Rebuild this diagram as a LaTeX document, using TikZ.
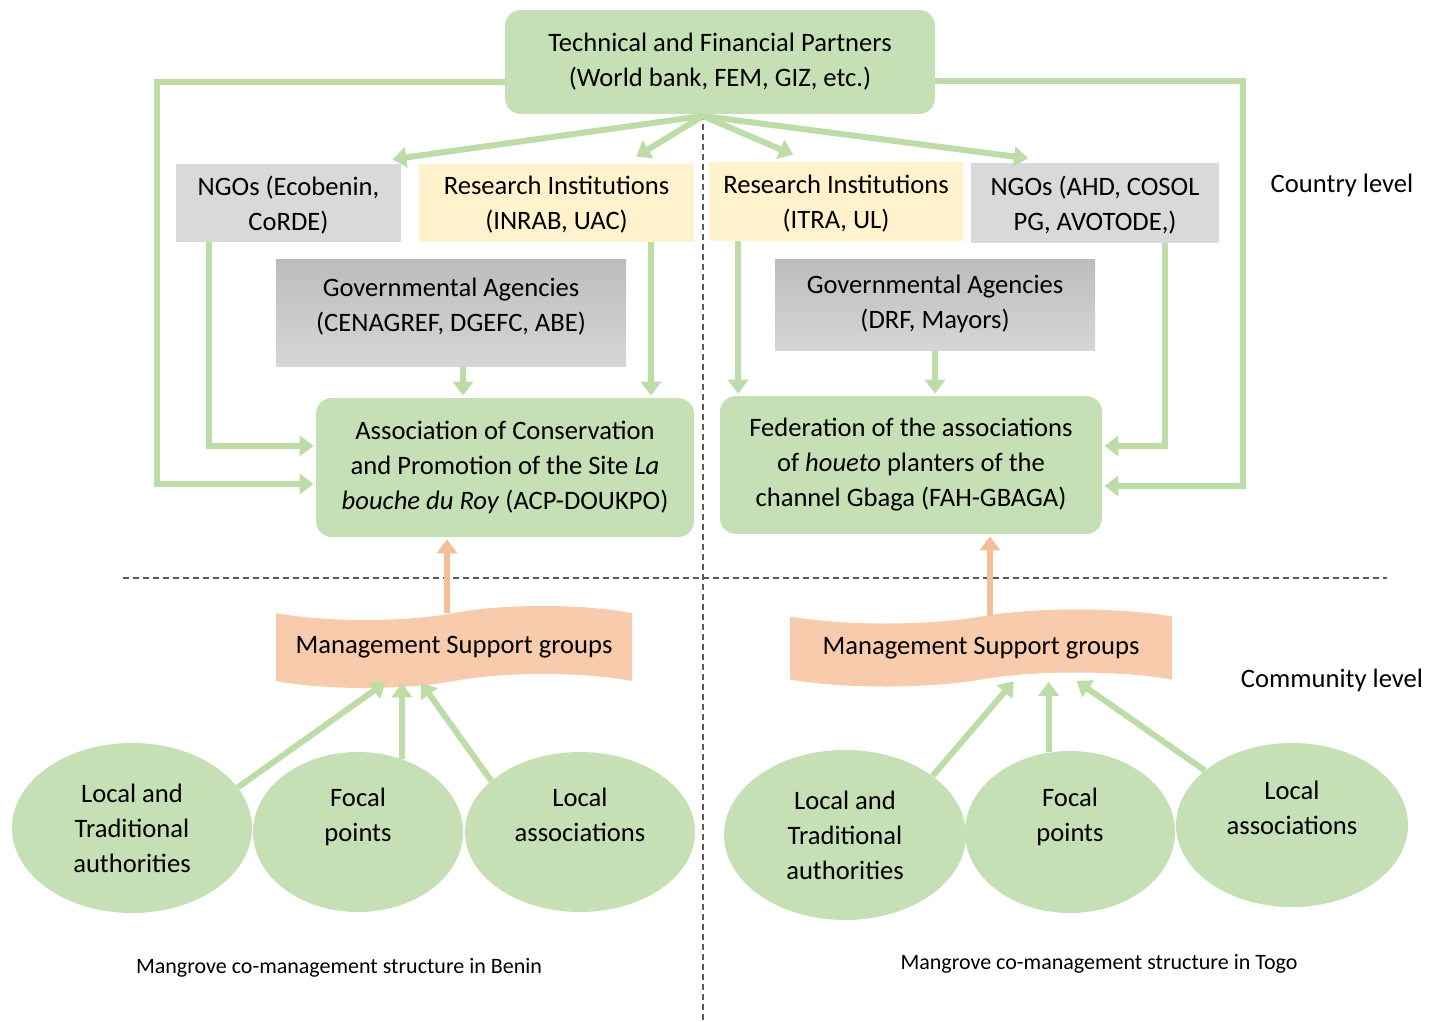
\documentclass[tikz,border=0pt]{standalone}
\usepackage{fontspec}
\setmainfont{Carlito}
\usetikzlibrary{shapes.geometric,shapes.symbols,arrows.meta}
\definecolor{leaf}{RGB}{197,224,180}
\definecolor{leafline}{RGB}{189,220,168}
\definecolor{ngogray}{RGB}{217,217,217}
\definecolor{cream}{RGB}{255,242,204}
\definecolor{peach}{RGB}{248,203,173}
\definecolor{peachline}{RGB}{245,190,152}
\definecolor{govtop}{RGB}{188,188,188}
\definecolor{govbot}{RGB}{214,214,214}
\definecolor{rule}{RGB}{90,90,90}

\begin{document}
\begin{tikzpicture}[x=0.5pt,y=-0.5pt]
    \tikzstyle{every node}=[font=\fontsize{13.3}{17.5}\selectfont, align=center, inner sep=0pt]
    \tikzstyle{roundbox}=[rectangle, rounded corners=8pt, fill=leaf]
    \tikzstyle{ngobox}=[rectangle, fill=ngogray, text depth=0pt]
    \tikzstyle{resbox}=[rectangle, fill=cream, text depth=0pt]
    \tikzstyle{govbox}=[rectangle, top color=govtop, bottom color=govbot, text depth=8pt]
    \tikzstyle{wave}=[tape, fill=peach, tape bend height=7pt]
    \tikzstyle{blob}=[ellipse, fill=leaf]
    \tikzstyle{blob2}=[blob, text depth=17pt]
    \tikzstyle{link}=[-{Triangle[width=10pt,length=7pt]}, draw=leafline, line width=3pt, shorten >=1pt]
    \tikzstyle{uplink}=[-{Triangle[width=10pt,length=7pt]}, draw=peachline, line width=3pt, shorten >=1pt]
    \tikzstyle{divider}=[draw=rule, densely dashed, line width=0.6pt]
    \tikzstyle{caption}=[font=\fontsize{11}{13}\selectfont]

    \fill[white] (0,0) rectangle (1441,1022);
    \useasboundingbox (0,0) rectangle (1441,1022);

    % dividers
    \draw[divider] (123,578) -- (1387,578);
    \draw[divider] (703,114) -- (703,1020);

    % country level
    \node[roundbox, minimum width=215pt, minimum height=52pt] (tfp) at (720,62)
        {Technical and Financial Partners\\(World bank, FEM, GIZ, etc.)};
    \node[ngobox, minimum width=112.5pt, minimum height=39pt] (ngoB) at (288.5,203)
        {NGOs (Ecobenin,\\CoRDE)};
    \node[resbox, minimum width=137.5pt, minimum height=39pt] (resB) at (556.5,203)
        {Research Institutions\\(INRAB, UAC)};
    \node[resbox, minimum width=127pt, minimum height=39.5pt] (resT) at (836,201.5)
        {Research Institutions\\(ITRA, UL)};
    \node[ngobox, minimum width=124pt, minimum height=40pt] (ngoT) at (1095,203)
        {NGOs (AHD, COSOL\\PG, AVOTODE,)};
    \node[govbox, minimum width=175pt, minimum height=53.5pt] (govB) at (451,312.5)
        {Governmental Agencies\\(CENAGREF, DGEFC, ABE)};
    \node[govbox, text depth=3pt, minimum width=160pt, minimum height=45.5pt] (govT) at (935,304.5)
        {Governmental Agencies\\(DRF, Mayors)};
    \node[roundbox, minimum width=189pt, minimum height=69.5pt] (acp) at (505,467.5)
        {Association of Conservation\\and Promotion of the Site \textit{La}\\\textit{bouche du Roy} (ACP-DOUKPO)};
    \node[roundbox, minimum width=191pt, minimum height=69pt] (fah) at (911,465)
        {Federation of the associations\\of \textit{houeto} planters of the\\channel Gbaga (FAH-GBAGA)};
    \node (country) at (1342,185) {Country level};

    % community level
    \node[wave, minimum width=178pt, minimum height=41pt] (msgB) at (454,647) {Management Support groups};
    \node[wave, minimum width=191pt, minimum height=38.5pt] (msgT) at (981,648) {Management Support groups};
    \node (community) at (1332,680) {Community level};

    \node[blob, minimum width=120pt, minimum height=85pt] (ltB) at (132,828) {Local and\\Traditional\\authorities};
    \node[blob2, minimum width=105pt, minimum height=80pt] (fpB) at (358,832) {Focal\\points};
    \node[blob2, minimum width=115pt, minimum height=80pt] (laB) at (580,832) {Local\\associations};
    \node[blob, minimum width=121pt, minimum height=85pt] (ltT) at (845,835) {Local and\\Traditional\\authorities};
    \node[blob2, minimum width=105pt, minimum height=81pt] (fpT) at (1070,832) {Focal\\points};
    \node[blob2, minimum width=116pt, minimum height=82pt] (laT) at (1292,825) {Local\\associations};

    \node[caption] (capB) at (339,968) {Mangrove co-management structure in Benin};
    \node[caption] (capT) at (1099,964) {Mangrove co-management structure in Togo};

    % partners to the country actors
    \coordinate (hub) at (703,116);
    \coordinate (lcorner) at (157,82);
    \coordinate (rcorner) at (1243,81);
    \draw[link] (hub) -- ([xshift=-5.5pt,yshift=2pt]ngoB.north east);
    \draw[link] (hub) -- ([xshift=39pt,yshift=3pt]resB.north);
    \draw[link] (hub) -- ([xshift=-20.5pt,yshift=3pt]resT.north);
    \draw[link] (hub) -- ([xshift=-32.5pt,yshift=2pt]ngoT.north);
    \draw[link] ([yshift=-10pt]tfp.west) -- (lcorner) |- ([yshift=-8.25pt]acp.west);
    \draw[link] ([yshift=-9.5pt]tfp.east) -- (rcorner) |- ([yshift=-10.5pt]fah.east);

    % country actors to the associations
    \draw[link] ([xshift=16.5pt]ngoB.south west) |- ([yshift=10.75pt]acp.west);
    \draw[link] ([xshift=47.25pt]resB.south) -- ([xshift=47.25pt]resB.south |- acp.north);
    \draw[link] ([xshift=6pt]govB.south) -- ([xshift=6pt]govB.south |- acp.north);
    \draw[link] ([xshift=-49pt]resT.south) -- ([xshift=-49pt]resT.south |- fah.north);
    \draw[link] (govT.south) -- (govT.south |- fah.north);
    \draw[link] ([xshift=35pt]ngoT.south) |- ([yshift=9.5pt]fah.east);

    % support groups to the associations
    \draw[uplink] ([xshift=-3.5pt]msgB.north) -- ([xshift=-3.5pt]msgB.north |- acp.south);
    \draw[uplink] ([xshift=4.5pt]msgT.north) -- ([xshift=4.5pt]msgT.north |- fah.south);

    % community actors to the support groups
    \draw[link] (ltB.21) -- ([xshift=-33.5pt]msgB.south);
    \draw[link] (fpB.59) -- (fpB.59 |- msgB.south);
    \draw[link] (laB.150) -- ([xshift=-17pt]msgB.south);
    \draw[link] (ltT.34) -- ([xshift=17pt]msgT.south);
    \draw[link] (fpT.105) -- (fpT.105 |- msgT.south);
    \draw[link] (laT.148) -- ([xshift=47pt]msgT.south);
\end{tikzpicture}
\end{document}
